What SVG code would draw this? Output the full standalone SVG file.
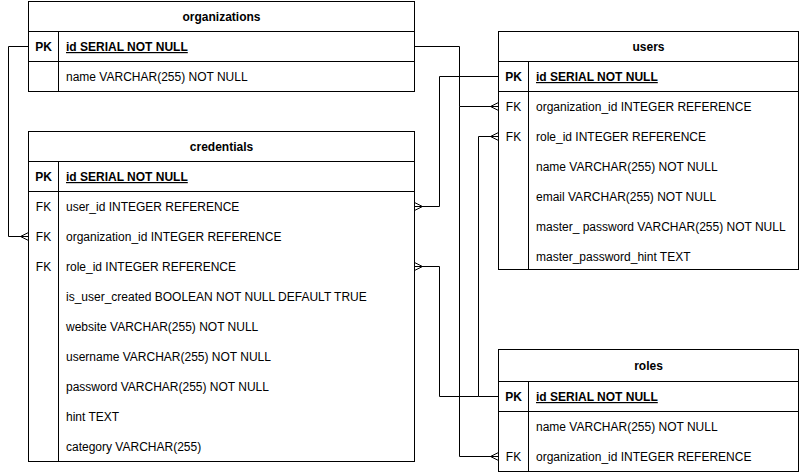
<svg xmlns="http://www.w3.org/2000/svg" width="800" height="473" viewBox="0 0 800 473">
<style>
text{font-family:"Liberation Sans",Arial,Helvetica,sans-serif;font-size:12px;fill:#000}
.h{font-weight:bold;text-anchor:middle}
.k{font-weight:bold;text-anchor:middle}
.fk{text-anchor:middle}
.pk{font-weight:bold;text-decoration:underline}
.t{fill:#fff;stroke:#000;stroke-width:1}
.l{fill:none;stroke:#000;stroke-width:1}
</style>
<rect width="800" height="473" fill="#fff"/>
<g id="connectors" class="l" fill="none" stroke="#000">
<path d="M28.5,46.5 H8.5 V236.5 H28.5"/>
<path d="M20.5,236.5 L28.5,232.5 M20.5,236.5 L28.5,240.5"/>
<path d="M414.5,46.5 H459.5 V106.5 H498.5"/>
<path d="M490.5,106.5 L498.5,102.5 M490.5,106.5 L498.5,110.5"/>
<path d="M459.5,106.5 V456.5 H498.5"/>
<path d="M490.5,456.5 L498.5,452.5 M490.5,456.5 L498.5,460.5"/>
<path d="M498.5,76.5 H439.5 V206.5 H414.5"/>
<path d="M422.5,206.5 L414.5,202.5 M422.5,206.5 L414.5,210.5"/>
<path d="M498.5,396.5 H478.5 V136.5 H498.5"/>
<path d="M490.5,136.5 L498.5,132.5 M490.5,136.5 L498.5,140.5"/>
<path d="M478.5,396.5 H439.5 V266.5 H414.5"/>
<path d="M422.5,266.5 L414.5,262.5 M422.5,266.5 L414.5,270.5"/>
</g>
<g id="organizations">
<rect class="t" x="28.5" y="1.5" width="386" height="90"/>
<path class="l" d="M28.5,31.5 H414.5 M28.5,61.5 H414.5 M58.5,31.5 V91.5"/>
<text class="h" x="221.5" y="21">organizations</text>
<text class="k" x="43.5" y="51">PK</text>
<text class="pk" x="66" y="51">id SERIAL NOT NULL</text>
<text x="66" y="81">name VARCHAR(255) NOT NULL</text>
</g>
<g id="credentials">
<rect class="t" x="28.5" y="131.5" width="386" height="330"/>
<path class="l" d="M28.5,161.5 H414.5 M28.5,191.5 H414.5 M58.5,161.5 V461.5"/>
<text class="h" x="221.5" y="151">credentials</text>
<text class="k" x="43.5" y="181">PK</text>
<text class="pk" x="66" y="181">id SERIAL NOT NULL</text>
<text class="fk" x="43.5" y="211">FK</text>
<text x="66" y="211">user_id INTEGER REFERENCE</text>
<text class="fk" x="43.5" y="241">FK</text>
<text x="66" y="241">organization_id INTEGER REFERENCE</text>
<text class="fk" x="43.5" y="271">FK</text>
<text x="66" y="271">role_id INTEGER REFERENCE</text>
<text x="66" y="301">is_user_created BOOLEAN NOT NULL DEFAULT TRUE</text>
<text x="66" y="331">website VARCHAR(255) NOT NULL</text>
<text x="66" y="361">username VARCHAR(255) NOT NULL</text>
<text x="66" y="391">password VARCHAR(255) NOT NULL</text>
<text x="66" y="421">hint TEXT</text>
<text x="66" y="451">category VARCHAR(255)</text>
</g>
<g id="users">
<rect class="t" x="498.5" y="31.5" width="300" height="238"/>
<path class="l" d="M498.5,61.5 H798.5 M498.5,91.5 H798.5 M528.5,61.5 V269.5"/>
<text class="h" x="648.5" y="51">users</text>
<text class="k" x="513.5" y="81">PK</text>
<text class="pk" x="536" y="81">id SERIAL NOT NULL</text>
<text class="fk" x="513.5" y="111">FK</text>
<text x="536" y="111">organization_id INTEGER REFERENCE</text>
<text class="fk" x="513.5" y="141">FK</text>
<text x="536" y="141">role_id INTEGER REFERENCE</text>
<text x="536" y="171">name VARCHAR(255) NOT NULL</text>
<text x="536" y="201">email VARCHAR(255) NOT NULL</text>
<text x="536" y="231">master_ password VARCHAR(255) NOT NULL</text>
<text x="536" y="261">master_password_hint TEXT</text>
</g>
<g id="roles">
<rect class="t" x="498.5" y="349.5" width="300" height="122"/>
<path class="l" d="M498.5,381.5 H798.5 M498.5,411.5 H798.5 M528.5,381.5 V471.5"/>
<text class="h" x="648.5" y="370">roles</text>
<text class="k" x="513.5" y="401">PK</text>
<text class="pk" x="536" y="401">id SERIAL NOT NULL</text>
<text x="536" y="431">name VARCHAR(255) NOT NULL</text>
<text class="fk" x="513.5" y="461">FK</text>
<text x="536" y="461">organization_id INTEGER REFERENCE</text>
</g>
</svg>
